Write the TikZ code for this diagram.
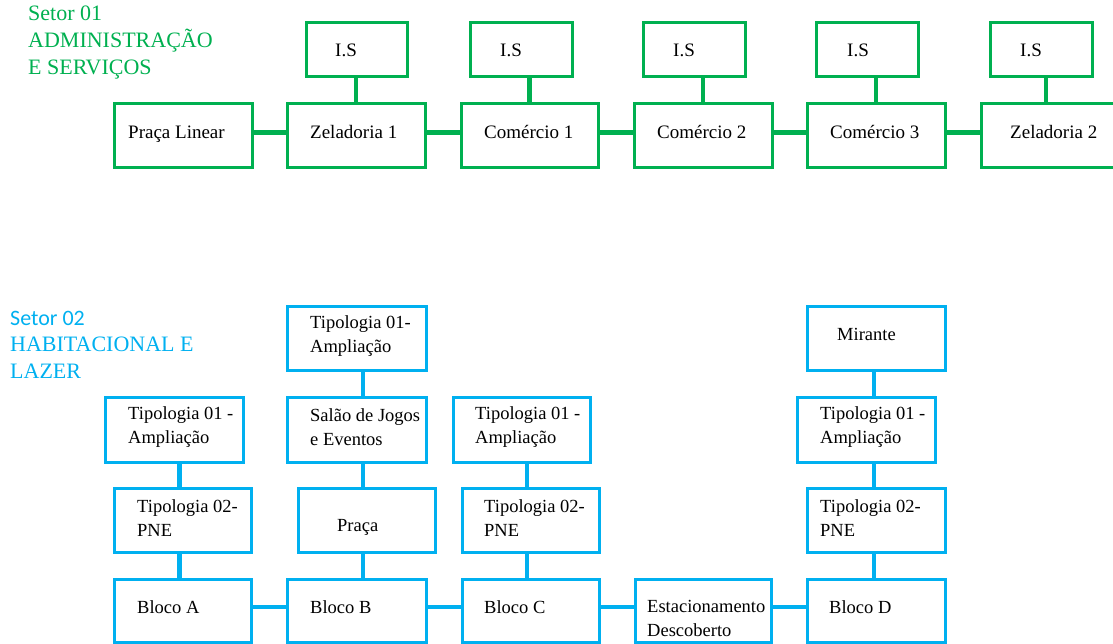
\documentclass[tikz,border=0pt]{standalone}
\usepackage{fontspec}
\setmainfont{Liberation Serif}
\newfontfamily\carl{Carlito}
\definecolor{gr}{RGB}{0,176,80}
\definecolor{bl}{RGB}{0,176,240}
\begin{document}
\begin{tikzpicture}[x=1pt,y=-1pt,
  gbox/.style={draw=gr, line width=3pt, inner sep=0pt, rectangle, minimum height=64pt},
  bbox/.style={draw=bl, line width=3pt, inner sep=0pt, rectangle, minimum height=64pt},
  gline/.style={draw=gr, line width=4.5pt},
  bline/.style={draw=bl, line width=4.5pt},
  gtxt/.style={anchor=west, inner sep=0pt, align=left, text=black, font=\fontsize{19}{24}\selectfont},
  btxt/.style={anchor=west, inner sep=0pt, align=left, text=black, font=\fontsize{18.5}{24}\selectfont},
  oneline/.style={text height=16pt, text depth=4pt},
  title/.style={anchor=west, inner sep=0pt, align=left}]
\useasboundingbox (0,0) rectangle (1113,644);

% ---------- Sector 1 ----------
\node[title, text=gr, font=\fontsize{22}{27}\selectfont] (t1) at (28,43) {Setor 01\\ADMINISTRAÇÃO\\E SERVIÇOS};

\node[gbox, minimum width=138pt] (pl) at (183,136) {};
\node[gbox, minimum width=138pt] (z1) at (356,136) {};
\node[gbox, minimum width=137pt] (c1) at (529.5,136) {};
\node[gbox, minimum width=138pt] (c2) at (703,136) {};
\node[gbox, minimum width=138pt] (c3) at (876,136) {};
\node[gbox, minimum width=138pt] (z2) at (1050,136) {};
\node[gbox, minimum width=101pt, minimum height=54pt] (is1) at (356.5,50) {};
\node[gbox, minimum width=102pt, minimum height=54pt] (is2) at (521,50) {};
\node[gbox, minimum width=102pt, minimum height=54pt] (is3) at (694,50) {};
\node[gbox, minimum width=102pt, minimum height=54pt] (is4) at (867,50) {};
\node[gbox, minimum width=102pt, minimum height=54pt] (is5) at (1041,50) {};

\draw[gline] ([yshift=3.5pt]pl.east) -- ([yshift=3.5pt]z1.west);
\draw[gline] ([yshift=3.5pt]z1.east) -- ([yshift=3.5pt]c1.west);
\draw[gline] ([yshift=3.5pt]c1.east) -- ([yshift=3.5pt]c2.west);
\draw[gline] ([yshift=3.5pt]c2.east) -- ([yshift=3.5pt]c3.west);
\draw[gline] ([yshift=3.5pt]c3.east) -- ([yshift=3.5pt]z2.west);
\draw[gline] (z1.north |- is1.south) -- (z1.north);
\draw[gline] (c1.north |- is2.south) -- (c1.north);
\draw[gline] (c2.north |- is3.south) -- (c2.north);
\draw[gline] (c3.north |- is4.south) -- (c3.north);
\draw[gline] ([xshift=-4pt]z2.north |- is5.south) -- ([xshift=-4pt]z2.north);

\node[gtxt, oneline] (pl-t) at (128,133) {Praça Linear};
\node[gtxt, oneline] (z1-t) at (310,133) {Zeladoria 1};
\node[gtxt, oneline] (c1-t) at (484,133) {Comércio 1};
\node[gtxt, oneline] (c2-t) at (657,133) {Comércio 2};
\node[gtxt, oneline] (c3-t) at (830,133) {Comércio 3};
\node[gtxt, oneline] (z2-t) at (1010,133) {Zeladoria 2};
\node[gtxt, oneline] (is1-t) at (335,51) {I.S};
\node[gtxt, oneline] (is2-t) at (500,51) {I.S};
\node[gtxt, oneline] (is3-t) at (673,51) {I.S};
\node[gtxt, oneline] (is4-t) at (847,51) {I.S};
\node[gtxt, oneline] (is5-t) at (1020,51) {I.S};

% ---------- Sector 2 ----------
\node[title, text=bl, font=\fontsize{22}{26.5}\selectfont] (t2) at (10,344.5) {{\carl Setor 02}\\HABITACIONAL E\\LAZER};

\node[bbox, minimum width=139pt] (tb0) at (356.5,338) {};
\node[bbox, minimum width=138pt] (mi) at (876,338) {};
\node[bbox, minimum width=138pt, minimum height=65pt] (ta1) at (174,429.5) {};
\node[bbox, minimum width=139pt, minimum height=65pt] (sj) at (356.5,429.5) {};
\node[bbox, minimum width=137pt, minimum height=65pt] (tc1) at (521.5,429.5) {};
\node[bbox, minimum width=138pt, minimum height=65pt] (td1) at (866.5,429.5) {};
\node[bbox, minimum width=137pt] (ta2) at (182.5,520) {};
\node[bbox, minimum width=137pt] (pr) at (366.5,520) {};
\node[bbox, minimum width=137pt] (tc2) at (530.5,520) {};
\node[bbox, minimum width=138pt] (td2) at (876,520) {};
\node[bbox, minimum width=137pt, minimum height=63pt] (ba) at (182.5,610.5) {};
\node[bbox, minimum width=139pt, minimum height=63pt] (bb) at (356.5,610.5) {};
\node[bbox, minimum width=137pt, minimum height=63pt] (bc) at (530.5,610.5) {};
\node[bbox, minimum width=136pt, minimum height=63pt] (es) at (703,610.5) {};
\node[bbox, minimum width=138pt, minimum height=63pt] (bd) at (876,610.5) {};

% vertical connectors
\draw[bline] ([xshift=-3pt]ta2.north |- ta1.south) -- ([xshift=-3pt]ta2.north);
\draw[bline] ([xshift=-3pt]ba.north -| ta2.south) -- ([xshift=-3pt]ta2.south);
\draw[bline] ([xshift=-3.5pt]pr.north |- tb0.south) -- ([xshift=-3.5pt]pr.north |- sj.north);
\draw[bline] ([xshift=-3.5pt]pr.north |- sj.south) -- ([xshift=-3.5pt]pr.north);
\draw[bline] ([xshift=-3.5pt]pr.south) -- ([xshift=-3.5pt]pr.south |- bb.north);
\draw[bline] ([xshift=-3.5pt]tc2.north |- tc1.south) -- ([xshift=-3.5pt]tc2.north);
\draw[bline] ([xshift=-3.5pt]tc2.south) -- ([xshift=-3.5pt]tc2.south |- bc.north);
\draw[bline] ([xshift=-2pt]td2.north |- mi.south) -- ([xshift=-2pt]td2.north |- td1.north);
\draw[bline] ([xshift=-2pt]td2.north |- td1.south) -- ([xshift=-2pt]td2.north);
\draw[bline] ([xshift=-2pt]td2.south) -- ([xshift=-2pt]td2.south |- bd.north);
% horizontal connectors
\draw[bline] ([yshift=3.5pt]ba.east) -- ([yshift=3.5pt]bb.west);
\draw[bline] ([yshift=3.5pt]bb.east) -- ([yshift=3.5pt]bc.west);
\draw[bline] ([yshift=3.5pt]bc.east) -- ([yshift=3.5pt]es.west);
\draw[bline] ([yshift=3.5pt]es.east) -- ([yshift=3.5pt]bd.west);

\node[btxt] (tb0-t) at (310,336) {Tipologia 01-\\Ampliação};
\node[btxt, oneline] (mi-t) at (837,334) {Mirante};
\node[btxt] (ta1-t) at (128,427) {Tipologia 01 -\\Ampliação};
\node[btxt] (sj-t) at (310,427) {Salão de Jogos\\e Eventos};
\node[btxt] (tc1-t) at (475,427) {Tipologia 01 -\\Ampliação};
\node[btxt] (td1-t) at (820,427) {Tipologia 01 -\\Ampliação};
\node[btxt] (ta2-t) at (137,518) {Tipologia 02-\\PNE};
\node[btxt, oneline] (pr-t) at (337,525) {Praça};
\node[btxt] (tc2-t) at (484,518) {Tipologia 02-\\PNE};
\node[btxt] (td2-t) at (820,518) {Tipologia 02-\\PNE};
\node[btxt, oneline] (ba-t) at (137,607) {Bloco A};
\node[btxt, oneline] (bb-t) at (310,607) {Bloco B};
\node[btxt, oneline] (bc-t) at (484,607) {Bloco C};
\node[btxt] (es-t) at (647,618) {Estacionamento\\Descoberto};
\node[btxt, oneline] (bd-t) at (829,607) {Bloco D};
\end{tikzpicture}
\end{document}
